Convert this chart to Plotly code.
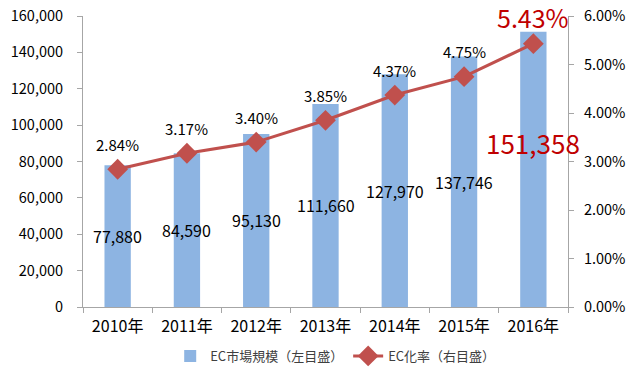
import plotly.graph_objects as go

categories = ["2010年", "2011年", "2012年", "2013年", "2014年", "2015年", "2016年"]
market_size = [77880, 84590, 95130, 111660, 127970, 137746, 151358]
ec_rate = [0.0284, 0.0317, 0.0340, 0.0385, 0.0437, 0.0475, 0.0543]

FONT = "Noto Sans CJK JP"
BAR_COLOR = "#8DB4E2"
LINE_COLOR = "#C0504D"
RED = "#C00000"

fig = go.Figure()
fig.add_trace(go.Bar(
    x=categories, y=market_size, name="EC市場規模（左目盛）",
    marker=dict(color=BAR_COLOR, line=dict(width=0)),
    width=0.38, textposition="none",
    yaxis="y",
))
fig.add_trace(go.Scatter(
    x=categories, y=ec_rate, name="EC化率（右目盛）", yaxis="y2",
    mode="lines+markers",
    line=dict(color=LINE_COLOR, width=3),
    marker=dict(symbol="diamond", size=16, color=LINE_COLOR),
))

annotations = []
# bar value labels (centered in bars), except the last which is highlighted
for c, v in zip(categories[:-1], market_size[:-1]):
    annotations.append(dict(
        x=c, y=v / 2, xref="x", yref="y", text=f"{v:,}", showarrow=False,
        font=dict(size=16, color="black", family=FONT),
    ))
for i, (c, r) in enumerate(zip(categories, ec_rate)):
    last = i == len(categories) - 1
    annotations.append(dict(
        x=c, y=r, xref="x", yref="y2", text=f"{r*100:.2f}%",
        showarrow=False, yshift=27 if last else 25,
        font=dict(size=25 if last else 15, color=RED if last else "black", family=FONT),
    ))
annotations.append(dict(
    x=categories[-1], y=market_size[-1], xref="x", yref="y",
    text=f"{market_size[-1]:,}", showarrow=False, yshift=-111,
    font=dict(size=26, color=RED, family=FONT),
))

fig.update_layout(
    width=640, height=379,
    margin=dict(l=83, r=72, t=16, b=72, autoexpand=False),
    paper_bgcolor="white", plot_bgcolor="white",
    font=dict(family=FONT, size=14, color="black"),
    showlegend=True,
    legend=dict(orientation="h", x=0.52, xanchor="center", y=1 - 356 / 379, yanchor="middle",
                yref="container",
                font=dict(size=13, color="#404040", family=FONT), itemwidth=30),
    xaxis=dict(type="category", range=[-0.5, len(categories) - 0.5],
               showline=True, linecolor="#A6A6A6", linewidth=1,
               ticks="outside", tickson="boundaries", ticklen=5, tickcolor="#A6A6A6",
               showgrid=False, tickfont=dict(size=16), automargin=False,
               ticklabelstandoff=5),
    yaxis=dict(range=[0, 160000], dtick=20000, tickformat=",", showline=True,
               linecolor="#A6A6A6", ticks="outside", ticklen=5, tickcolor="#A6A6A6",
               showgrid=False, zeroline=False, tickfont=dict(size=14.5), automargin=False,
               ticklabelstandoff=11),
    yaxis2=dict(range=[0, 0.06], dtick=0.01, tickformat=".2%", overlaying="y", side="right",
                showline=True, linecolor="#A6A6A6", ticks="outside", ticklen=5,
                tickcolor="#A6A6A6", showgrid=False, zeroline=False, tickfont=dict(size=14.5),
                automargin=False, ticklabelstandoff=7),
    annotations=annotations,
)

fig.write_html("out.html", config={"displayModeBar": False},
               post_script="document.body.style.margin='0';document.body.style.overflow='hidden';")
